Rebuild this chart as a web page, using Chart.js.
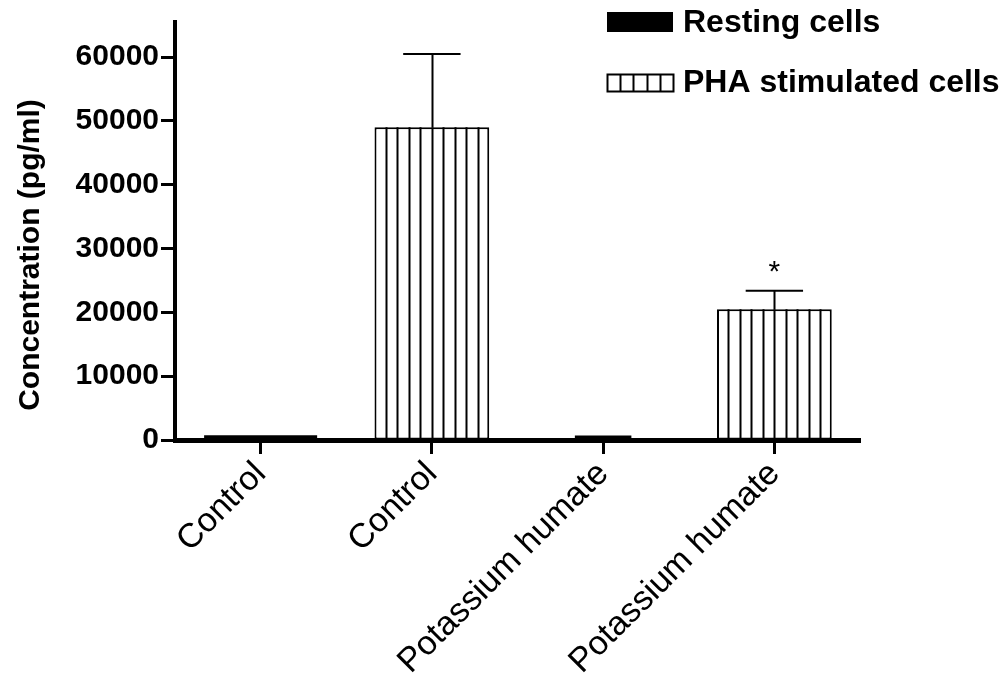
<!DOCTYPE html>
<html lang="en">
<head>
  <meta charset="UTF-8">
  <title>Concentration (pg/ml)</title>
  <style>
    html, body { margin: 0; padding: 0; background: #fff; }
    #wrap { width: 1005px; height: 678px; }
  </style>
</head>
<body>
<div id="wrap"><canvas id="chart" width="1005" height="678"></canvas></div>

<script src="https://cdn.jsdelivr.net/npm/chart.js"></script>
<script>
  // data
  const categories = ['Control', 'Control', 'Potassium humate', 'Potassium humate'];
  const restingValues = [750, null, 700, null];
  const phaValues = [null, 49000, null, 20500];
  const phaErrors = [null, 11500, null, 2900];
  const phaMarks = ['', '', '', '*'];
  const yTicks = [0, 10000, 20000, 30000, 40000, 50000, 60000];
  const yMax = 65500;
  const yTitle = 'Concentration (pg/ml)';

  const FONT = '"Liberation Sans", Arial, sans-serif';

  // resting bars: the humate one is drawn narrower in the figure
  const restingControl = restingValues.map((v, i) => (i === 0 ? v : null));
  const restingHumate = restingValues.map((v, i) => (i === 2 ? v : null));

  // vertical hatching, error bars, star, y title and the legend
  const extras = {
    id: 'extras',
    afterDatasetsDraw(chart) {
      const ctx = chart.ctx;
      const y = chart.scales.y;
      const meta = chart.getDatasetMeta(2);
      ctx.save();
      meta.data.forEach((bar, i) => {
        if (phaValues[i] == null) return;
        const left = bar.x - bar.width / 2;
        const step = bar.width / 10;
        ctx.strokeStyle = '#000';
        ctx.lineWidth = 2;
        ctx.beginPath();
        for (let k = 1; k < 10; k++) {
          const x = Math.round(left + k * step) + 0.5;
          ctx.moveTo(x, bar.y);
          ctx.lineTo(x, bar.base);
        }
        ctx.stroke();

        // error bar (upper only)
        const top = y.getPixelForValue(phaValues[i] + phaErrors[i]);
        const cx = Math.round(bar.x) + 0.5;
        ctx.beginPath();
        ctx.moveTo(cx, bar.y);
        ctx.lineTo(cx, top);
        ctx.moveTo(bar.x - bar.width * 0.25, top);
        ctx.lineTo(bar.x + bar.width * 0.25, top);
        ctx.stroke();

        if (phaMarks[i]) {
          ctx.fillStyle = '#000';
          ctx.font = '30px ' + FONT;
          ctx.textAlign = 'center';
          ctx.textBaseline = 'middle';
          ctx.fillText(phaMarks[i], bar.x, top - 18);
        }
      });
      ctx.restore();
    },
    afterDraw(chart) {
      const ctx = chart.ctx;
      const area = chart.chartArea;
      ctx.save();

      // y axis title, sits a bit below the axis middle in the figure
      ctx.translate(31, (area.top + area.bottom) / 2 + 24);
      ctx.rotate(-Math.PI / 2);
      ctx.fillStyle = '#000';
      ctx.font = 'bold 30px ' + FONT;
      ctx.textAlign = 'center';
      ctx.textBaseline = 'middle';
      ctx.fillText(yTitle, 0, 0);
      ctx.restore();

      // legend
      const sx = 607, sw = 66;
      ctx.save();
      ctx.fillStyle = '#000';
      ctx.fillRect(sx, 12, sw, 20);
      ctx.strokeStyle = '#000';
      ctx.lineWidth = 2;
      ctx.strokeRect(sx + 0.5, 74.5, sw, 17);
      ctx.beginPath();
      for (let k = 1; k < 5; k++) {
        const x = Math.round(sx + k * sw / 5) + 0.5;
        ctx.moveTo(x, 74.5);
        ctx.lineTo(x, 91.5);
      }
      ctx.stroke();
      ctx.font = 'bold 32px ' + FONT;
      ctx.textAlign = 'left';
      ctx.textBaseline = 'middle';
      ctx.fillText(chart.data.datasets[0].label, 683, 23);
      ctx.fillText(chart.data.datasets[2].label, 683, 83);
      ctx.restore();
    }
  };

  const ctx = document.getElementById('chart').getContext('2d');
  new Chart(ctx, {
    type: 'bar',
    data: {
      labels: categories,
      datasets: [
        {
          label: 'Resting cells',
          data: restingControl,
          backgroundColor: '#000',
          borderWidth: 0,
          grouped: false,
          categoryPercentage: 1,
          barPercentage: 0.66
        },
        {
          label: 'Resting cells',
          data: restingHumate,
          backgroundColor: '#000',
          borderWidth: 0,
          grouped: false,
          categoryPercentage: 1,
          barPercentage: 0.33
        },
        {
          label: 'PHA stimulated cells',
          data: phaValues,
          backgroundColor: '#fff',
          borderColor: '#000',
          borderWidth: 2,
          borderSkipped: false,
          grouped: false,
          categoryPercentage: 1,
          barPercentage: 0.67
        }
      ]
    },
    options: {
      responsive: false,
      animation: false,
      layout: { padding: { top: 22, right: 145, left: 0, bottom: 0 } },
      plugins: {
        legend: { display: false },
        tooltip: { enabled: false }
      },
      scales: {
        x: {
          grid: {
            offset: false,
            drawOnChartArea: false,
            tickLength: 14,
            tickWidth: 3,
            tickColor: '#000'
          },
          border: { color: '#000', width: 5 },
          ticks: {
            color: '#000',
            font: { family: FONT, size: 34 },
            minRotation: 45,
            maxRotation: 45,
            padding: 0
          },
          afterFit(scale) { scale.height = 238; }
        },
        y: {
          min: 0,
          max: yMax,
          afterBuildTicks(scale) {
            scale.ticks = yTicks.map(v => ({ value: v }));
          },
          grid: {
            drawOnChartArea: false,
            tickLength: 14,
            tickWidth: 3,
            tickColor: '#000'
          },
          border: { color: '#000', width: 4 },
          ticks: {
            color: '#000',
            font: { family: FONT, size: 30, weight: 'bold' },
            padding: 2,
            callback: v => String(v)
          },
          afterFit(scale) { scale.width = 175; }
        }
      }
    },
    plugins: [extras]
  });
</script>
</body>
</html>
